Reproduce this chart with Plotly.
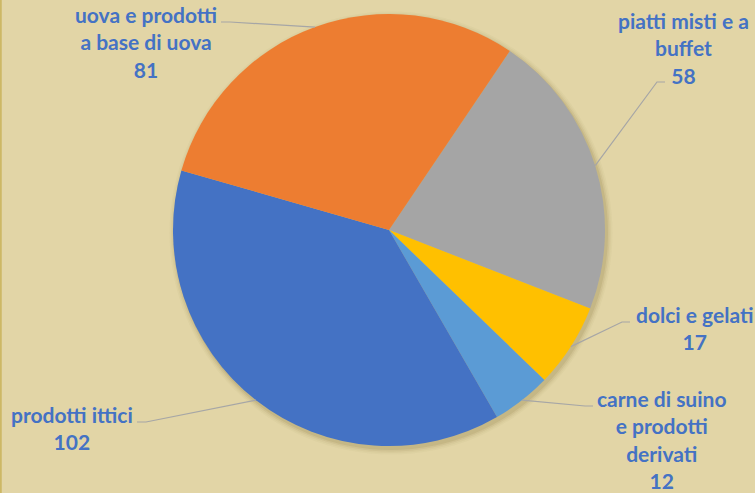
import math
import plotly.graph_objects as go

categories = ["piatti misti e a buffet", "dolci e gelati", "carne di suino e prodotti derivati",
              "prodotti ittici", "uova e prodotti a base di uova"]
values = [58, 17, 12, 102, 81]
label_texts = ["piatti misti e a<br>buffet<br>58", "dolci e gelati<br>17",
               "carne di suino<br>e prodotti<br>derivati<br>12", "prodotti ittici<br>102",
               "uova e prodotti<br>a base di uova<br>81"]
colors = ["#A5A5A5", "#FFC000", "#5B9BD5", "#4472C4", "#ED7D31"]

W, H = 755, 493
CX, CY, R = 389, 230, 216
ROT = 34

# label placement (pixel): text centre, leader-line start, horizontal stub direction
label_pos = [(683, 48), (694, 328), (661, 439), (72, 428), (146, 42)]
line_start = [(665, 82), (630, 322), (593, 406), (137, 422), (221, 22)]
stub = [-8, -8, -8, 9, 9]


def px(x):
    return x / W


def py(y):
    return 1 - y / H


fig = go.Figure()
fig.add_trace(go.Pie(
    labels=categories, values=values, sort=False, direction="clockwise",
    rotation=ROT, textinfo="none", hoverinfo="label+value",
    marker=dict(colors=colors, line=dict(width=0)),
    domain=dict(x=[px(CX - R), px(CX + R)], y=[py(CY + R), py(CY - R)]),
    showlegend=False,
))

shapes = []
# soft shadow
for i, a in enumerate([0.10, 0.07, 0.05, 0.03]):
    rr = R + 1 + i * 1.5
    ox, oy = 2, 3
    shapes.append(dict(type="circle", xref="paper", yref="paper", layer="below",
                       x0=px(CX + ox - rr), x1=px(CX + ox + rr),
                       y0=py(CY + oy + rr), y1=py(CY + oy - rr),
                       fillcolor=f"rgba(110,90,30,{a})", line=dict(width=0)))

total = sum(values)
cum = 0
annotations = []
for i, v in enumerate(values):
    mid = math.radians(ROT + (cum + v / 2) / total * 360)
    cum += v
    ex = CX + R * math.sin(mid)
    ey = CY - R * math.cos(mid)
    sx, sy = line_start[i]
    path = f"M {px(sx)} {py(sy)} L {px(sx + stub[i])} {py(sy)} L {px(ex)} {py(ey)}"
    shapes.append(dict(type="path", xref="paper", yref="paper", path=path,
                       line=dict(color="#A6A6A6", width=1.2)))
    lx, ly = label_pos[i]
    annotations.append(dict(x=px(lx), y=py(ly), xref="paper", yref="paper",
                            text=label_texts[i], showarrow=False, align="center",
                            xanchor="center", yanchor="middle",
                            font=dict(family="Lato", size=21, color="#4472C4", weight="bold")))

# left border
shapes.append(dict(type="line", xref="paper", yref="paper", x0=0.001, x1=0.001, y0=0, y1=1,
                   line=dict(color="#CDB865", width=2)))

fig.update_layout(
    width=W, height=H, margin=dict(l=0, r=0, t=0, b=0),
    paper_bgcolor="#E2D5A6", plot_bgcolor="#E2D5A6",
    shapes=shapes, annotations=annotations,
)
fig.write_html("out.html")
